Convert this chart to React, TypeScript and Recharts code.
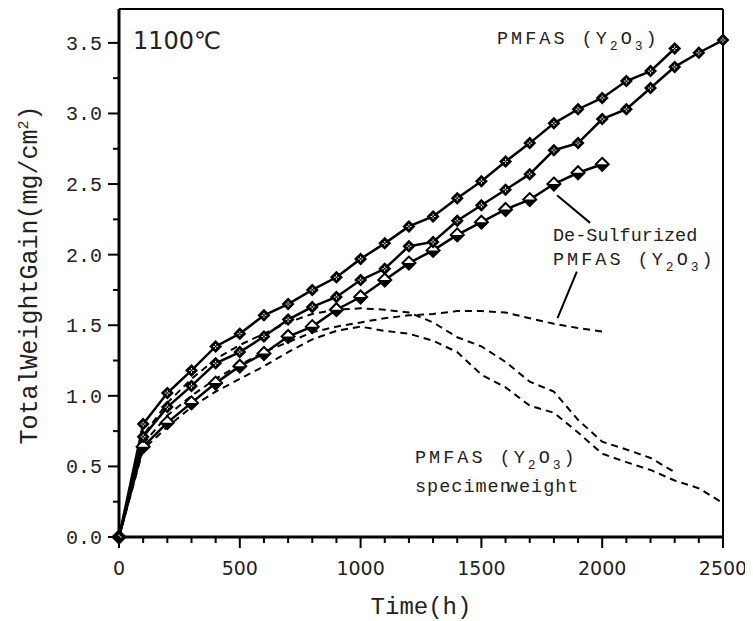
import React from "react";
import {
  LineChart,
  Line,
  XAxis,
  YAxis,
  ReferenceLine,
  Customized,
} from "recharts";

// hours sampled every 100 h
const hours = [
  0, 100, 200, 300, 400, 500, 600, 700, 800, 900, 1000, 1100, 1200, 1300,
  1400, 1500, 1600, 1700, 1800, 1900, 2000, 2100, 2200, 2300, 2400, 2500,
];

// PMFAS (Y2O3), upper run (to 2300 h)
const pmfasUpper = [
  0, 0.8, 1.02, 1.18, 1.35, 1.44, 1.57, 1.65, 1.75, 1.84, 1.97, 2.08, 2.2,
  2.27, 2.4, 2.52, 2.66, 2.79, 2.93, 3.03, 3.11, 3.23, 3.3, 3.46,
];

// PMFAS (Y2O3), lower run (to 2500 h)
const pmfasLower = [
  0, 0.71, 0.92, 1.07, 1.23, 1.31, 1.42, 1.54, 1.63, 1.7, 1.82, 1.9, 2.06,
  2.09, 2.24, 2.35, 2.46, 2.57, 2.74, 2.79, 2.96, 3.03, 3.18, 3.33, 3.43, 3.52,
];

// De-Sulfurized PMFAS (Y2O3) (to 2000 h)
const deSulfurized = [
  0, 0.64, 0.81, 0.95, 1.09, 1.21, 1.3, 1.42, 1.49, 1.61, 1.7, 1.82, 1.94,
  2.03, 2.14, 2.23, 2.32, 2.39, 2.5, 2.58, 2.64,
];

// specimen weight curves (dashed)
const weightDeSulf = [
  0, 0.66, 0.86, 1.0, 1.12, 1.22, 1.31, 1.38, 1.45, 1.49, 1.52, 1.55, 1.57,
  1.58, 1.6, 1.6, 1.59, 1.55, 1.51, 1.48, 1.455,
];
const weightUpper = [
  0, 0.72, 0.95, 1.12, 1.26, 1.36, 1.44, 1.52, 1.58, 1.61, 1.62, 1.61, 1.59,
  1.52, 1.415, 1.35, 1.24, 1.1, 1.03, 0.83, 0.675, 0.62, 0.56, 0.46,
];
const weightLower = [
  0, 0.62, 0.78, 0.92, 1.03, 1.12, 1.21, 1.31, 1.4, 1.46, 1.49, 1.46, 1.44,
  1.39, 1.31, 1.15, 1.06, 0.93, 0.88, 0.74, 0.59, 0.53, 0.475, 0.4, 0.345,
  0.24,
];

const xTicks = [
  0, 100, 200, 300, 400, 500, 600, 700, 800, 900, 1000, 1100, 1200, 1300,
  1400, 1500, 1600, 1700, 1800, 1900, 2000, 2100, 2200, 2300, 2400, 2500,
];
const xLabels = [0, 500, 1000, 1500, 2000, 2500];
const yTicks = [
  0, 0.25, 0.5, 0.75, 1, 1.25, 1.5, 1.75, 2, 2.25, 2.5, 2.75, 3, 3.25, 3.5,
];
const yLabels = [0, 0.5, 1, 1.5, 2, 2.5, 3, 3.5];

const toPoints = (vals: number[]) => vals.map((v, i) => ({ t: hours[i], v }));

const MONO = "'Liberation Mono', 'DejaVu Sans Mono', monospace";
const SANS = "'DejaVu Sans', sans-serif";

const XTick = (props: any) => {
  const { x, y, payload } = props;
  const major = xLabels.includes(payload.value);
  return (
    <g>
      <line x1={x} y1={y} x2={x} y2={y + (major ? 11 : 6)} stroke="#000" strokeWidth={2} />
      {major && (
        <text x={x} y={y + 38} textAnchor="middle" fontFamily={SANS} fontSize={19} fill="#222">
          {payload.value}
        </text>
      )}
    </g>
  );
};

const YTick = (props: any) => {
  const { x, y, payload } = props;
  const major = yLabels.includes(payload.value);
  return (
    <g>
      <line x1={x - (major ? 11 : 6)} y1={y} x2={x} y2={y} stroke="#000" strokeWidth={2} />
      {major && (
        <text x={x - 17} y={y} dy="0.35em" textAnchor="end" fontFamily={MONO} fontSize={20} fill="#222">
          {payload.value.toFixed(1)}
        </text>
      )}
    </g>
  );
};

const crossDiamond = (props: any) => {
  const { cx, cy, index } = props;
  const r = 6.5;
  return (
    <g key={index}>
      <path d={`M${cx},${cy - r}L${cx + r},${cy}L${cx},${cy + r}L${cx - r},${cy}Z`} fill="#000" />
      <path d={`M${cx - 2.5},${cy}H${cx + 2.5}M${cx},${cy - 2.5}V${cy + 2.5}`} stroke="#fff" strokeWidth={1} />
      <rect x={cx - 0.8} y={cy - 0.8} width={1.6} height={1.6} fill="#000" />
    </g>
  );
};

const halfDiamond = (props: any) => {
  const { cx, cy, index } = props;
  const r = 6.5;
  return (
    <g key={index}>
      <path
        d={`M${cx},${cy - r}L${cx + r},${cy}L${cx},${cy + r}L${cx - r},${cy}Z`}
        fill="#fff"
        stroke="#000"
        strokeWidth={2}
      />
      <path d={`M${cx - r},${cy}L${cx + r},${cy}L${cx},${cy + r}Z`} fill="#000" />
    </g>
  );
};

const Formula = () => (
  <>
    PMFAS (Y<tspan dy={6} fontSize={13}>2</tspan>
    <tspan dy={-6}>O</tspan>
    <tspan dy={6} fontSize={13}>3</tspan>
    <tspan dy={-6}>)</tspan>
  </>
);

const Annotations = () => (
  <g fill="#222">
    <text x={125} y={41} fontFamily={SANS} fontSize={24}>
      1100℃
    </text>
    <text x={489} y={36} fontFamily={MONO} fontSize={18.5} letterSpacing={3}>
      <Formula />
    </text>
    <text x={545} y={233} fontFamily={MONO} fontSize={18.5}>
      De-Sulfurized
    </text>
    <text x={545} y={257} fontFamily={MONO} fontSize={18.5} letterSpacing={3}>
      <Formula />
    </text>
    <text x={407} y={455} fontFamily={MONO} fontSize={18.5} letterSpacing={3}>
      <Formula />
    </text>
    <text x={407} y={484} fontFamily={MONO} fontSize={18.5} letterSpacing={1}>
      specimen<tspan dx={-5}>weight</tspan>
    </text>
    <text x={413} y={606} textAnchor="middle" fontFamily={MONO} fontSize={24}>
      Time(h)
    </text>
    <text
      x={29}
      y={267}
      textAnchor="middle"
      fontFamily={MONO}
      fontSize={25}
      transform="rotate(-90 29 267)"
    >
      TotalWeightGain(mg/cm<tspan dy={-9} fontSize={15}>2</tspan>
      <tspan dy={9}>)</tspan>
    </text>
  </g>
);

export default function App() {
  return (
    <div style={{ width: 745, height: 613 }}>
      <LineChart width={745} height={613} margin={{ top: 1, right: 30, bottom: 0, left: 0 }}>
        <XAxis
          dataKey="t"
          type="number"
          domain={[0, 2500]}
          ticks={xTicks}
          interval={0}
          height={84}
          tickSize={0}
          tickMargin={0}
          tickLine={false}
          axisLine={{ stroke: "#000", strokeWidth: 3 }}
          tick={<XTick />}
        />
        <YAxis
          type="number"
          domain={[0, 3.74]}
          ticks={yTicks}
          interval={0}
          width={111}
          tickSize={0}
          tickMargin={0}
          tickLine={false}
          axisLine={{ stroke: "#000", strokeWidth: 3 }}
          tick={<YTick />}
        />
        <ReferenceLine y={3.74} stroke="#000" strokeWidth={2} />
        <ReferenceLine x={2500} stroke="#000" strokeWidth={2} />
        <ReferenceLine
          segment={[{ x: 1813, y: 2.42 }, { x: 1950, y: 2.225 }]}
          stroke="#000"
          strokeWidth={2}
        />
        <ReferenceLine
          segment={[{ x: 1895, y: 1.88 }, { x: 1815, y: 1.55 }]}
          stroke="#000"
          strokeWidth={2}
        />

        <Line data={toPoints(weightDeSulf)} dataKey="v" stroke="#000" strokeWidth={2} strokeDasharray="7 5" dot={false} activeDot={false} isAnimationActive={false} />
        <Line data={toPoints(weightUpper)} dataKey="v" stroke="#000" strokeWidth={2} strokeDasharray="7 5" dot={false} activeDot={false} isAnimationActive={false} />
        <Line data={toPoints(weightLower)} dataKey="v" stroke="#000" strokeWidth={2} strokeDasharray="7 5" dot={false} activeDot={false} isAnimationActive={false} />

        <Line data={toPoints(deSulfurized)} dataKey="v" stroke="#000" strokeWidth={2.5} dot={halfDiamond} activeDot={false} isAnimationActive={false} />
        <Line data={toPoints(pmfasLower)} dataKey="v" stroke="#000" strokeWidth={2.5} dot={crossDiamond} activeDot={false} isAnimationActive={false} />
        <Line data={toPoints(pmfasUpper)} dataKey="v" stroke="#000" strokeWidth={2.5} dot={crossDiamond} activeDot={false} isAnimationActive={false} />

        <Customized component={Annotations} />
      </LineChart>
    </div>
  );
}
